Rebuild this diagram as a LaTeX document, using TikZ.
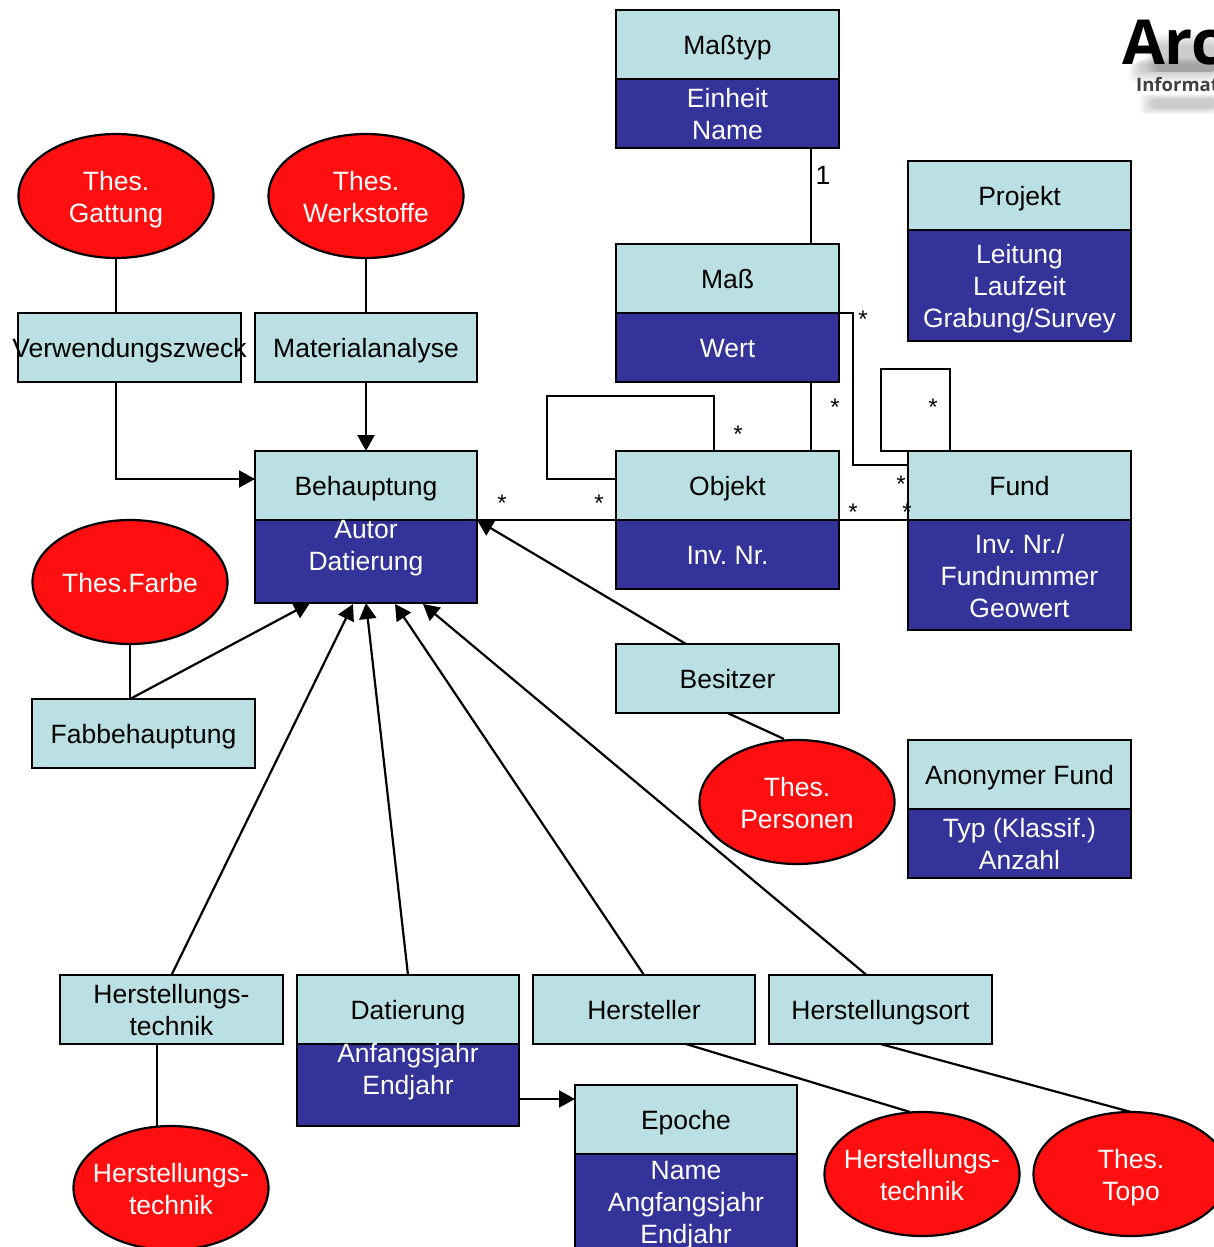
\documentclass[tikz,border=0pt]{standalone}
\usepackage{fontspec}
\setmainfont{Liberation Sans}
\newfontfamily\logofont{Open Sans}
\usetikzlibrary{arrows.meta,calc,shapes.geometric}
\definecolor{headteal}{HTML}{BBE0E3}
\definecolor{bodyblue}{HTML}{333399}
\definecolor{thesred}{HTML}{FF0F0F}
\newcommand\topstrut{\rule{0pt}{26pt}}
\newcommand\mlt{\rule{0pt}{26.5pt}}
\newcommand\botstrut{\rule[-6pt]{0pt}{6pt}}
\frenchspacing
\tikzset{
  base/.style={draw=black,line width=2.2pt,inner sep=0pt,outer sep=0pt,align=center,font=\fontsize{26.5}{32}\selectfont,
    execute at begin node=\topstrut,execute at end node=\botstrut},
  headbox/.style={base,fill=headteal,text=black,minimum width=223pt,minimum height=69pt},
  bodybox/.style={base,fill=bodyblue,text=white,minimum width=223pt},
  bodytext/.style={inner sep=0pt,outer sep=0pt,align=center,text=white,font=\fontsize{26.5}{32}\selectfont,
    execute at begin node=\topstrut,execute at end node=\botstrut},
  thes/.style={base,shape=ellipse,fill=thesred,text=white,minimum width=195pt,minimum height=124pt},
  conn/.style={draw=black,line width=2.2pt},
  arr/.style={conn,-{Triangle[length=16pt,width=17pt]},shorten >=0pt},
  mult/.style={inner sep=0pt,font=\fontsize{24}{24}\selectfont},
  one/.style={inner sep=0pt,font=\fontsize{26.5}{32}\selectfont},
  logoA/.style={inner sep=0pt,anchor=base west,font=\logofont\bfseries\fontsize{62}{62}\selectfont},
  logoB/.style={inner sep=0pt,anchor=base west,font=\logofont\bfseries\fontsize{18.5}{20}\selectfont},
  shadowblob/.style={fill=black,opacity=.03,rounded corners=5pt},
}
\begin{document}
\begin{tikzpicture}[x=1pt,y=-1pt]
\useasboundingbox (0,0) rectangle (1214,1247);
\clip (0,0) rectangle (1214,1247);
% logo with soft shadow
\foreach \i in {0,...,6}{
  \path[shadowblob] (1129+\i*2,64-\i) rectangle (1216,82-\i*1.6);
  \path[shadowblob] (1146+\i*2,34+\i*2) rectangle (1216,72);
  \path[shadowblob] (1140+\i*2,94+\i*.8) rectangle (1216,114-\i*1);
}
\node[logoA,text=black] (logoarc) at (1122,65) {Arc};
\node[logoB,text=black!75] (logoinfo) at (1136,92) {Informat};
% boxes
\node[headbox] (masstyp) at (727.5,44.5) {Maßtyp};
\node[bodybox,minimum height=69pt] (masstypb) at (727.5,113.5) {\mlt Einheit\\Name};
\node[headbox] (mass) at (727.5,278.5) {Maß};
\node[bodybox,minimum height=69pt] (massb) at (727.5,347.5) {Wert};
\node[headbox] (projekt) at (1019.5,195.5) {Projekt};
\node[bodybox,minimum height=111pt] (projektb) at (1019.5,285.5) {\mlt Leitung\\Laufzeit\\Grabung/Survey};
\node[headbox] (verw) at (129.5,347.5) {\makebox[0pt]{Verwendungszweck}};
\node[headbox,minimum width=222pt] (material) at (366,347.5) {Materialanalyse};
\node[headbox,minimum width=222pt] (beh) at (366,485.5) {Behauptung};
\node[bodybox,minimum width=222pt,minimum height=83pt] (behb) at (366,561.5) {};
\node[bodytext] (behbt) at (366,544.5) {\mlt Autor\\Datierung};
\node[headbox] (objekt) at (727.5,485.5) {Objekt};
\node[bodybox,minimum height=69pt] (objektb) at (727.5,554.5) {Inv. Nr.};
\node[headbox] (fund) at (1019.5,485.5) {Fund};
\node[bodybox,minimum height=110pt] (fundb) at (1019.5,575) {\mlt Inv. Nr./\\Fundnummer\\Geowert};
\node[headbox] (besitzer) at (727.5,678.5) {Besitzer};
\node[headbox] (anon) at (1019.5,774.5) {Anonymer Fund};
\node[bodybox,minimum height=69pt] (anonb) at (1019.5,843.5) {\mlt Typ (Klassif.)\\Anzahl};
\node[headbox] (fabb) at (143.5,733.5) {Fabbehauptung};
\node[headbox] (hertech) at (171.5,1009.5) {\mlt Herstellungs-\\technik};
\node[headbox,minimum width=222pt] (dat) at (408,1009.5) {Datierung};
\node[bodybox,minimum width=222pt,minimum height=82pt] (datb) at (408,1085) {};
\node[bodytext] (datbt) at (408,1068.5) {\mlt Anfangsjahr\\Endjahr};
\node[headbox,minimum width=222pt] (hersteller) at (644,1009.5) {Hersteller};
\node[headbox] (ort) at (880.5,1009.5) {Herstellungsort};
\node[headbox,minimum width=222pt] (epoche) at (686,1119.5) {Epoche};
\node[bodybox,minimum width=222pt,minimum height=110pt] (epocheb) at (686,1209) {};
\node[bodytext] (epochebt) at (686,1201.5) {\mlt Name\\Angfangsjahr\\Endjahr};
% thesauri
\node[thes] (gattung) at (116,196) {\mlt Thes.\\Gattung};
\node[thes] (werk) at (366,196) {\mlt Thes.\\Werkstoffe};
\node[thes] (farbe) at (130,582) {Thes.Farbe};
\node[thes] (personen) at (797,802) {\mlt Thes.\\Personen};
\node[thes] (tech1) at (171,1188) {\makebox[0pt]{\mlt Herstellungs-}\\\makebox[0pt]{technik}};
\node[thes] (tech2) at (922,1174) {\makebox[0pt]{\mlt Herstellungs-}\\\makebox[0pt]{technik}};
\node[thes] (topo) at (1131,1174) {\mlt Thes.\\Topo};
% connectors
\draw[conn] (gattung.south) -- (gattung.south |- verw.north);
\draw[conn] (werk.south) -- (material.north);
\draw[arr] (verw.south -| gattung.south) |- ($(beh.west)+(0,-6.5)$);
\draw[arr] (material.south) -- (beh.north);
\draw[conn] ($(masstypb.south)+(83.5,0)$) -- ($(mass.north)+(83.5,0)$);
\draw[conn] ($(massb.south)+(83.5,0)$) -- ($(objekt.north)+(83.5,0)$);
\draw[conn] (massb.north east) -- ++(14,0) |- ($(fund.north west)+(0,14)$);
\draw[conn] (fund.north west) -- ++(-27,0) -- ++(0,-82) -- ++(69,0) -- ($(fund.north west)+(42,0)$);
\draw[conn] (objekt.west) ++(0,-6.5) -- ++(-69,0) -- ++(0,-83) -- ++(167,0) -- ($(objekt.north)+(-13.5,0)$);
\draw[conn] (objektb.north west) -- (behb.north east);
\draw[conn] (objektb.north east) -- (fundb.north west);
\draw[arr] ($(besitzer.north)+(-41.5,0)$) -- (behb.north east);
\draw[conn] (besitzer.south) -- ($(personen.north)+(-13,-1)$);
\draw[conn] (farbe.south) -- (farbe.south |- fabb.north);
\draw[arr] (farbe.south |- fabb.north) -- ($(behb.south)+(-56,0)$);
\draw[arr] (hertech.north) -- ($(behb.south)+(-13,1)$);
\draw[arr] (dat.north) -- (behb.south);
\draw[arr] (hersteller.north) -- ($(behb.south)+(29,1)$);
\draw[arr] ($(ort.north)+(-14,0)$) -- ($(behb.south)+(57,1)$);
\draw[conn] ($(hertech.south)+(-14.5,0)$) -- ($(tech1.north)+(-14,1)$);
\draw[arr] ($(datb.east)+(0,14)$) -- ($(epoche.west)+(0,-20.5)$);
\draw[conn] ($(hersteller.south)+(42,0)$) -- ($(tech2.north)+(-12,0)$);
\draw[conn] (ort.south) -- (topo.north);
% multiplicities
\node[one] (m1) at (823,175) {1};
\node[mult] (s1) at (863,319) {*};
\node[mult] (s2) at (835,407) {*};
\node[mult] (s3) at (933,407) {*};
\node[mult] (s4) at (738,434) {*};
\node[mult] (s5) at (502,503) {*};
\node[mult] (s6) at (599,503) {*};
\node[mult] (s7) at (901,484) {*};
\node[mult] (s8) at (853,512) {*};
\node[mult] (s9) at (907,512) {*};
\end{tikzpicture}
\end{document}
